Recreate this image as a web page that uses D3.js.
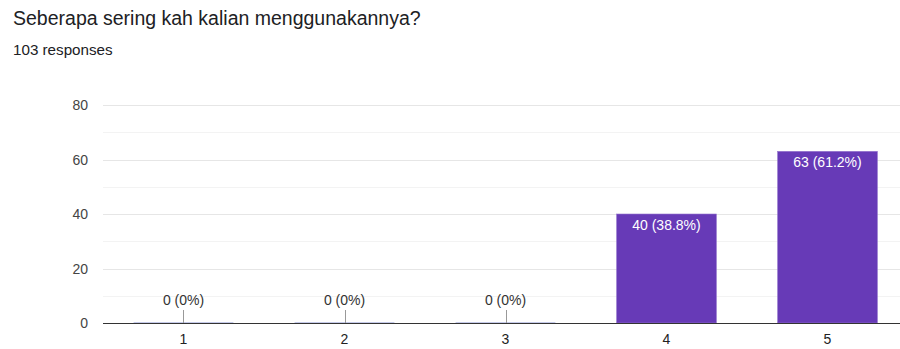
<!DOCTYPE html>
<html>
<head>
<meta charset="utf-8">
<script src="https://cdn.jsdelivr.net/npm/d3@7"></script>
<style>
  body { margin: 0; background: #fff; font-family: "Liberation Sans", Arial, sans-serif; }
</style>
</head>
<body>
<svg id="chart" width="900" height="349"></svg>
<script>
// data
const categories = ["1", "2", "3", "4", "5"];
const counts = [0, 0, 0, 40, 63];
const percents = ["0%", "0%", "0%", "38.8%", "61.2%"];
const yTicks = [0, 20, 40, 60, 80];

const title = "Seberapa sering kah kalian menggunakannya?";
const subtitle = "103 responses";

const svg = d3.select("#chart");

// title block
svg.append("text")
  .attr("x", 13).attr("y", 25)
  .attr("font-size", 19.5).attr("fill", "#202124")
  .text(title);
svg.append("text")
  .attr("x", 13).attr("y", 55)
  .attr("font-size", 15.2).attr("fill", "#202124")
  .text(subtitle);

const x = d3.scaleBand()
  .domain(categories)
  .range([103, 908])
  .paddingInner(0.38)
  .paddingOuter(0.19);

const y = d3.scaleLinear().domain([0, 80]).range([323, 105]);

// minor gridlines
svg.append("g")
  .selectAll("line")
  .data(d3.range(10, 80, 20))
  .join("line")
  .attr("x1", 103).attr("x2", 900)
  .attr("y1", d => Math.round(y(d)) + 0.5).attr("y2", d => Math.round(y(d)) + 0.5)
  .attr("stroke", "#f3f3f3");

// major gridlines
svg.append("g")
  .selectAll("line")
  .data(yTicks.slice(1))
  .join("line")
  .attr("x1", 103).attr("x2", 900)
  .attr("y1", d => Math.round(y(d)) + 0.5).attr("y2", d => Math.round(y(d)) + 0.5)
  .attr("stroke", "#e6e6e6");

// y tick labels
svg.append("g")
  .selectAll("text")
  .data(yTicks)
  .join("text")
  .attr("x", 88).attr("y", d => y(d) + 5)
  .attr("text-anchor", "end")
  .attr("font-size", 14).attr("fill", "#444")
  .text(d => d);

const data = categories.map((c, i) => ({ cat: c, v: counts[i], p: percents[i] }));

// bars
svg.append("g")
  .selectAll("rect")
  .data(data.filter(d => d.v > 0))
  .join("rect")
  .attr("x", d => x(d.cat))
  .attr("y", d => y(d.v))
  .attr("width", x.bandwidth())
  .attr("height", d => y(0) - y(d.v))
  .attr("fill", "#673ab7")
  .attr("stroke", "#9575cd").attr("stroke-width", 0.6);

// zero bars: faint line + leader
const zeros = data.filter(d => d.v === 0);
svg.append("g")
  .selectAll("line")
  .data(zeros)
  .join("line")
  .attr("x1", d => x(d.cat)).attr("x2", d => x(d.cat) + x.bandwidth())
  .attr("y1", y(0) - 0.5).attr("y2", y(0) - 0.5)
  .attr("stroke", "#c5cae9");
svg.append("g")
  .selectAll("line")
  .data(zeros)
  .join("line")
  .attr("x1", d => Math.round(x(d.cat) + x.bandwidth() / 2) + 0.5)
  .attr("x2", d => Math.round(x(d.cat) + x.bandwidth() / 2) + 0.5)
  .attr("y1", 310).attr("y2", y(0))
  .attr("stroke", "#999");

// baseline
svg.append("line")
  .attr("x1", 103).attr("x2", 900)
  .attr("y1", y(0) + 0.5).attr("y2", y(0) + 0.5)
  .attr("stroke", "#333");

// value labels
svg.append("g")
  .selectAll("text")
  .data(data)
  .join("text")
  .attr("x", d => x(d.cat) + x.bandwidth() / 2)
  .attr("y", d => d.v > 0 ? y(d.v) + 16 : 305)
  .attr("text-anchor", "middle")
  .attr("font-size", 14)
  .attr("fill", d => d.v > 0 ? "#ffffff" : "#333")
  .text(d => `${d.v} (${d.p})`);

// x labels
svg.append("g")
  .selectAll("text")
  .data(categories)
  .join("text")
  .attr("x", d => x(d) + x.bandwidth() / 2)
  .attr("y", 344)
  .attr("text-anchor", "middle")
  .attr("font-size", 14).attr("fill", "#222")
  .text(d => d);
</script>
</body>
</html>
